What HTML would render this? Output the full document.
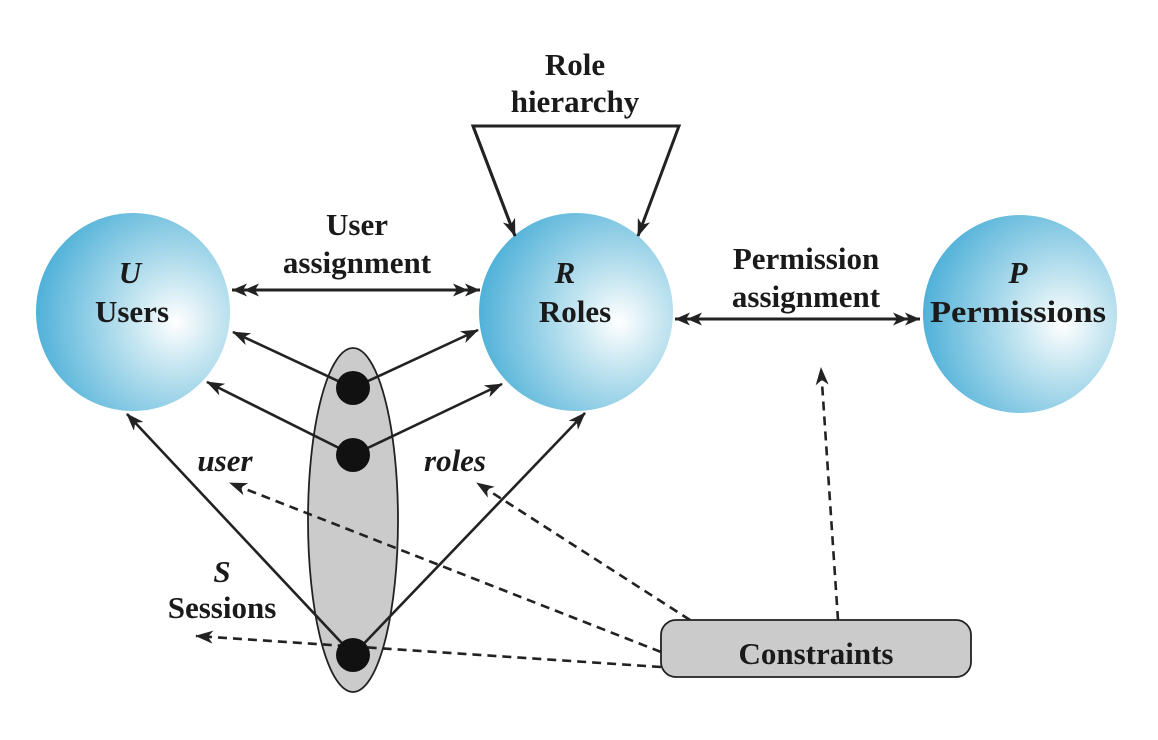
<!DOCTYPE html>
<html><head><meta charset="utf-8"><style>
html,body{margin:0;padding:0;background:#fff;}
svg{display:block;}
text{font-family:"Liberation Serif",serif;font-weight:bold;fill:#1a1a1a;}
</style></head><body>
<svg width="1158" height="740" viewBox="0 0 1158 740" xmlns="http://www.w3.org/2000/svg">
<defs>
<radialGradient id="g" cx="0.72" cy="0.55" r="0.75" fx="0.72" fy="0.55">
<stop offset="0" stop-color="#ffffff"/>
<stop offset="0.3" stop-color="#c6e6f1"/>
<stop offset="1" stop-color="#4aaed7"/>
</radialGradient>
<marker id="a" markerWidth="18" markerHeight="13" refX="17" refY="6.5" orient="auto" markerUnits="userSpaceOnUse">
<path d="M0,0 L18,6.5 L0,13 L5,6.5 Z" fill="#222"/>
</marker>
<marker id="a2" markerWidth="28" markerHeight="13" refX="27" refY="6.5" orient="auto-start-reverse" markerUnits="userSpaceOnUse">
<path d="M0,0 L15,6.5 L0,13 L4,6.5 Z M12,0 L27,6.5 L12,13 L16,6.5 Z" fill="#222"/>
</marker>
</defs>

<ellipse cx="353" cy="520" rx="45" ry="172" fill="#cbcbcb" stroke="#222" stroke-width="1.8"/>

<ellipse cx="133" cy="312" rx="97" ry="99" fill="url(#g)"/>
<ellipse cx="576" cy="312" rx="97" ry="99" fill="url(#g)"/>
<ellipse cx="1020" cy="314" rx="97" ry="99" fill="url(#g)"/>

<g stroke="#222" stroke-width="3" fill="none">
<polyline points="515,236 473,126 679,126 638,236" marker-end="url(#a)"/>
<line x1="473" y1="126" x2="515" y2="236" marker-end="url(#a)"/>
<line x1="232" y1="290" x2="480" y2="290" marker-start="url(#a2)" marker-end="url(#a2)"/>
<line x1="675" y1="319" x2="920" y2="319" marker-start="url(#a2)" marker-end="url(#a2)"/>
</g>

<g stroke="#222" stroke-width="2.6" fill="none">
<line x1="353" y1="388" x2="233" y2="332" marker-end="url(#a)"/>
<line x1="353" y1="388" x2="478" y2="330" marker-end="url(#a)"/>
<line x1="353" y1="455" x2="207" y2="382" marker-end="url(#a)"/>
<line x1="353" y1="455" x2="502" y2="384" marker-end="url(#a)"/>
<line x1="353" y1="655" x2="127" y2="414" marker-end="url(#a)"/>
<line x1="353" y1="655" x2="585" y2="413" marker-end="url(#a)"/>
</g>

<g stroke="#222" stroke-width="2.6" fill="none" stroke-dasharray="9,6">
<line x1="690" y1="620" x2="477" y2="483" marker-end="url(#a)"/>
<line x1="661" y1="652" x2="230" y2="483" marker-end="url(#a)"/>
<line x1="661" y1="667" x2="196" y2="636" marker-end="url(#a)"/>
<line x1="838" y1="620" x2="821" y2="368" marker-end="url(#a)"/>
</g>

<circle cx="353" cy="388" r="17" fill="#111"/>
<circle cx="353" cy="455" r="17" fill="#111"/>
<circle cx="353" cy="655" r="17" fill="#111"/>

<rect x="661" y="620" width="310" height="57" rx="15" fill="#cbcbcb" stroke="#222" stroke-width="1.8"/>

<g font-size="31" text-anchor="middle">
<text x="575" y="75">Role</text>
<text x="575" y="112">hierarchy</text>
<text x="357" y="235">User</text>
<text x="357" y="273">assignment</text>
<text x="806" y="269">Permission</text>
<text x="806" y="307">assignment</text>
<text x="130" y="283" font-style="italic">U</text>
<text x="132" y="322">Users</text>
<text x="565" y="283" font-style="italic">R</text>
<text x="575" y="322">Roles</text>
<text x="1018" y="283" font-style="italic">P</text>
<text x="1018" y="322" textLength="176" lengthAdjust="spacingAndGlyphs">Permissions</text>
<text x="225" y="471" font-style="italic">user</text>
<text x="455" y="471" font-style="italic">roles</text>
<text x="222" y="582" font-style="italic">S</text>
<text x="222" y="618">Sessions</text>
<text x="816" y="664">Constraints</text>
</g>
</svg>
</body></html>
